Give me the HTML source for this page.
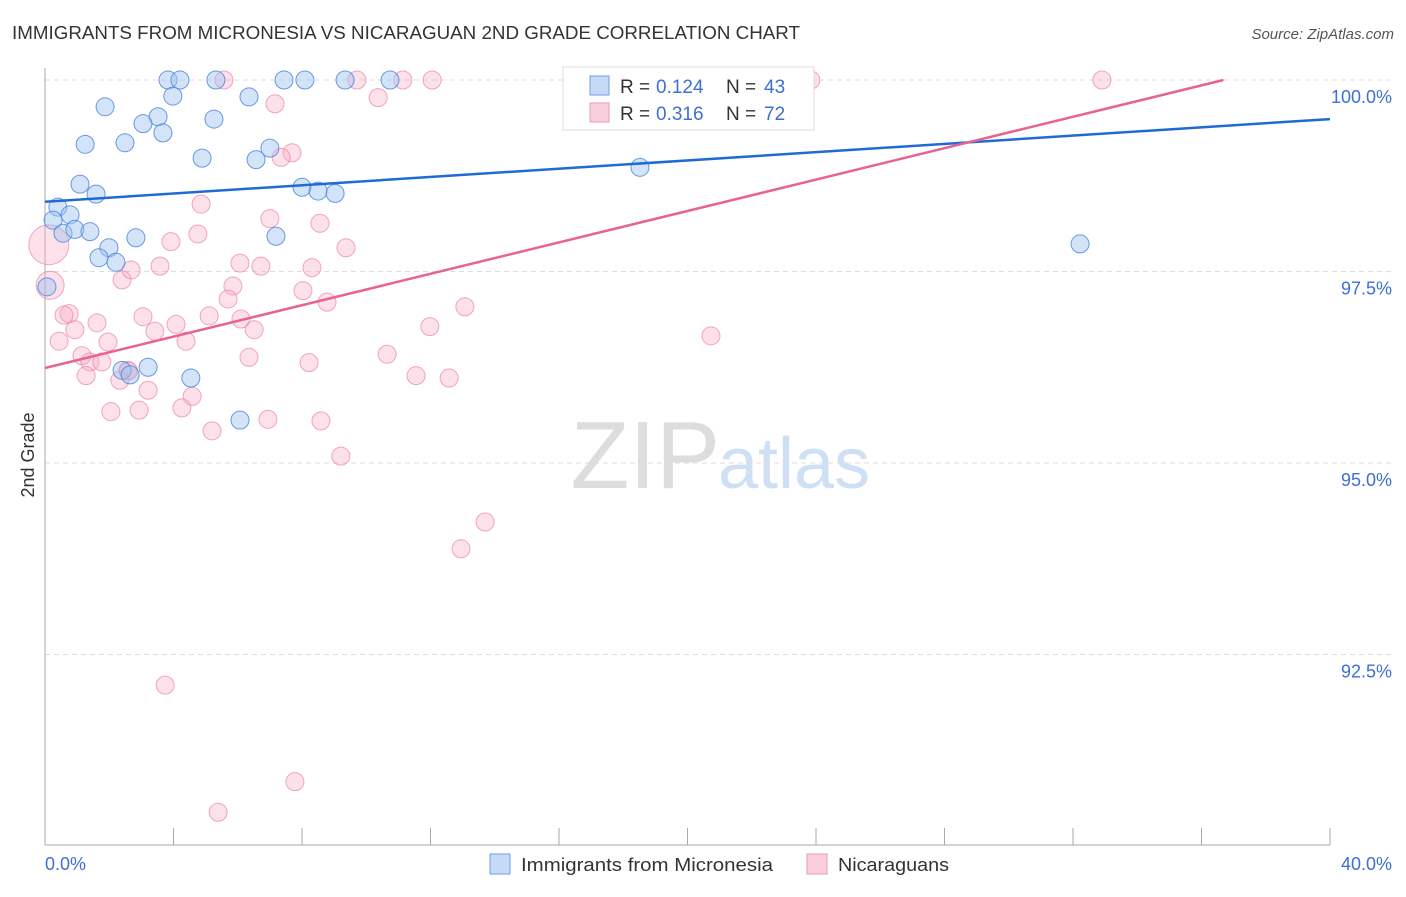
<!DOCTYPE html>
<html><head><meta charset="utf-8"><style>
body{margin:0;background:#fff;font-family:"Liberation Sans",sans-serif}
svg text{font-family:"Liberation Sans",sans-serif}
</style></head><body>
<svg id="chart" width="1406" height="892">
<text x="12" y="39" font-size="18" fill="#333" textLength="788" lengthAdjust="spacingAndGlyphs">IMMIGRANTS FROM MICRONESIA VS NICARAGUAN 2ND GRADE CORRELATION CHART</text>
<text x="1394" y="39" font-size="15" fill="#555" text-anchor="end" font-style="italic">Source: ZipAtlas.com</text>
<text x="720" y="488" font-size="96" fill="#ddd" text-anchor="end" font-family="Liberation Serif">ZIP</text>
<text x="718" y="488" font-size="72" fill="#cfe0f5">atlas</text>
<g id="grid"></g><g id="axes"></g><g id="pts"></g><g id="lines"></g>
<text transform="translate(34,455) rotate(-90)" font-size="18" fill="#333" text-anchor="middle">2nd Grade</text>
<text x="45" y="870" font-size="18" fill="#3d6fd6">0.0%</text>
<text x="1392" y="870" font-size="18" fill="#3d6fd6" text-anchor="end">40.0%</text>
<g>
<rect x="563" y="67" width="251" height="63" fill="#fff" stroke="#ddd"/>
<rect x="590" y="76" width="19" height="19" fill="#c5daf6" stroke="#6f9ee6"/>
<text x="620" y="93" font-size="19" fill="#333">R = </text><text x="656" y="93" font-size="19" fill="#3d6fd6">0.124</text>
<text x="726" y="93" font-size="19" fill="#333">N = </text><text x="764" y="93" font-size="19" fill="#3d6fd6">43</text>
<rect x="590" y="103" width="19" height="19" fill="#f9cfdc" stroke="#ec9ab3"/>
<text x="620" y="120" font-size="19" fill="#333">R = </text><text x="656" y="120" font-size="19" fill="#3d6fd6">0.316</text>
<text x="726" y="120" font-size="19" fill="#333">N = </text><text x="764" y="120" font-size="19" fill="#3d6fd6">72</text>
</g>
<g><rect x="490" y="854" width="20" height="20" fill="#c5daf6" stroke="#6f9ee6"/><text x="521" y="871" font-size="18" fill="#333" textLength="252" lengthAdjust="spacingAndGlyphs">Immigrants from Micronesia</text></g>
<g><rect x="807" y="854" width="20" height="20" fill="#f9cfdc" stroke="#ec9ab3"/><text x="838" y="871" font-size="18" fill="#333" textLength="111" lengthAdjust="spacingAndGlyphs">Nicaraguans</text></g>
</svg>
<script>
const yTicks=[100,97.5,95,92.5];
const yTickLabels=["100.0%","97.5%","95.0%","92.5%"];
const xTicks=[0,4,8,12,16,20,24,28,32,36,40];
const blueX=[3.83,4.20,5.32,7.44,8.09,9.34,10.74,1.87,3.98,6.35,3.52,3.05,5.26,3.67,1.25,2.49,4.89,7.00,6.57,18.52,1.09,1.59,8.00,8.50,9.03,0.40,0.78,0.25,0.56,0.93,1.40,2.83,7.19,1.99,1.68,2.21,0.06,3.21,2.40,2.65,4.54,6.07,32.22];
const blueY=[100,100,100,100,100,100,100,99.65,99.79,99.78,99.52,99.43,99.49,99.31,99.16,99.18,98.98,99.11,98.96,98.86,98.64,98.51,98.60,98.55,98.52,98.34,98.24,98.17,98.00,98.05,98.02,97.94,97.96,97.81,97.68,97.62,97.30,96.25,96.21,96.15,96.11,95.56,97.86];
const pinkX=[0.12,0.16,5.57,9.71,11.14,12.05,16.90,21.01,23.84,32.90,7.16,10.37,7.69,7.35,4.86,7.00,8.56,4.76,3.92,9.37,3.58,6.07,6.72,8.31,2.40,2.68,5.85,8.03,5.70,8.78,13.07,0.75,0.59,1.62,3.05,4.08,5.11,6.10,0.44,0.93,3.42,4.39,6.51,11.98,1.96,20.73,1.15,1.40,1.77,2.58,2.33,6.35,8.22,10.65,11.55,12.58,1.28,3.21,4.58,2.05,2.93,4.26,5.20,6.94,8.59,9.21,13.70,12.95,3.74,7.78,5.39,2.60];
const pinkY=[97.85,97.32,100,100,100,100,100,100,100,100,99.69,99.77,99.05,98.99,98.38,98.19,98.13,97.99,97.89,97.81,97.57,97.61,97.57,97.55,97.39,97.52,97.31,97.25,97.14,97.10,97.04,96.95,96.93,96.83,96.91,96.81,96.92,96.88,96.59,96.74,96.72,96.59,96.74,96.78,96.58,96.66,96.40,96.32,96.32,96.21,96.08,96.38,96.31,96.42,96.14,96.11,96.14,95.95,95.87,95.67,95.69,95.72,95.42,95.57,95.55,95.09,94.23,93.88,92.10,90.84,90.44,96.20];
const pinkR=[20,14];
const blueTrend=[98.41,99.49];
const pinkTrend=[96.24,100.34];
const X=v=>45+v*32.125, Y=v=>80+(100-v)*76.6;
const NS="http://www.w3.org/2000/svg";
function mk(t,a,p){const e=document.createElementNS(NS,t);for(const k in a)e.setAttribute(k,a[k]);p.appendChild(e);return e;}
const g=document.getElementById('grid'),ax=document.getElementById('axes'),pts=document.getElementById('pts'),ln=document.getElementById('lines');
yTicks.forEach((t,i)=>{
 const l=mk('line',{x1:45,x2:1393,y1:Y(t),y2:Y(t),stroke:'#ddd','stroke-dasharray':'5,4'},g);
 
 
 const tx=mk('text',{x:1392,y:Y(t)+23,'font-size':18,fill:'#3d6fd6','text-anchor':'end'},g);
 tx.textContent=yTickLabels[i];
 
 
});
const ya=mk('line',{x1:45,x2:45,y1:68,y2:845,stroke:'#aaa'},ax);


const xa=mk('line',{x1:45,x2:1330,y1:845,y2:845,stroke:'#aaa'},ax);


xTicks.forEach(t=>{const l=mk('line',{x1:X(t),x2:X(t),y1:828,y2:845,stroke:'#aaa'},ax);
 
 });
pinkX.forEach((v,i)=>{const c=mk('circle',{cx:X(v),cy:Y(pinkY[i]),r:pinkR[i]||9,fill:'rgba(246,170,195,0.35)',stroke:'rgba(236,130,165,0.7)','stroke-width':1},pts);
 
 });
blueX.forEach((v,i)=>{const c=mk('circle',{cx:X(v),cy:Y(blueY[i]),r:9,fill:'rgba(160,195,240,0.45)',stroke:'rgba(70,130,220,0.8)','stroke-width':1},pts);
 
 });
const bl=mk('line',{x1:X(0),y1:Y(blueTrend[0]),x2:X(40),y2:Y(blueTrend[1]),stroke:'#1f6bd6','stroke-width':2.5},ln);


const f=(100-pinkTrend[0])/(pinkTrend[1]-pinkTrend[0]);
const pl=mk('line',{x1:X(0),y1:Y(pinkTrend[0]),x2:X(40*Math.min(1,f)),y2:Y(Math.min(100,pinkTrend[1])),stroke:'#e8638f','stroke-width':2.5},ln);


</script>
</body></html>
